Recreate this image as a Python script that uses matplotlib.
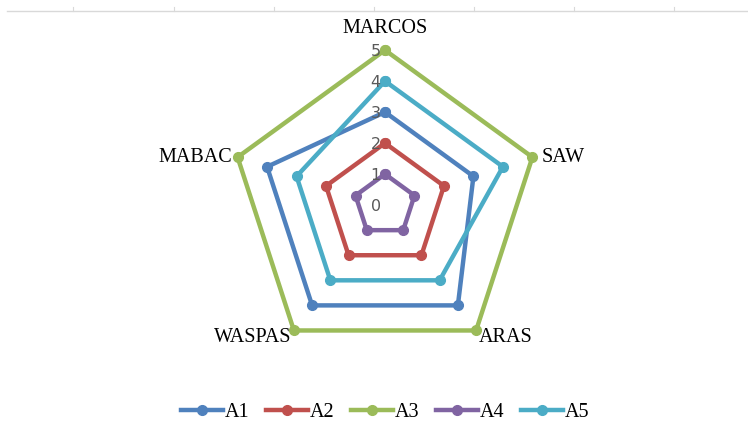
import numpy as np
import matplotlib
matplotlib.use("Agg")
import matplotlib.pyplot as plt
from matplotlib.lines import Line2D

categories = ["MARCOS", "SAW", "ARAS", "WASPAS", "MABAC"]
series_names = ["A1", "A2", "A3", "A4", "A5"]
A1 = [3, 3, 4, 4, 4]
A2 = [2, 2, 2, 2, 2]
A3 = [5, 5, 5, 5, 5]
A4 = [1, 1, 1, 1, 1]
A5 = [4, 4, 3, 3, 3]
colors = ["#4F81BD", "#C0504D", "#9BBB59", "#8064A2", "#4BACC6"]
r_ticks = [0, 1, 2, 3, 4, 5]

fig = plt.figure(figsize=(7.48, 4.37), dpi=100)

# faint sheet line along the top
fig.add_artist(Line2D([0.01, 1.0], [0.975, 0.975], color="#d9d9d9", lw=1))
for xp in [73, 174, 274, 374, 474, 574, 674]:
    fig.add_artist(Line2D([xp / 748, xp / 748], [0.975, 0.985], color="#d9d9d9", lw=0.8))

ax = fig.add_axes([0.3075, 0.1760, 0.4144, 0.7094], projection="polar")
ax.set_theta_offset(np.pi / 2)
ax.set_theta_direction(-1)

angles = np.linspace(0, 2 * np.pi, len(categories), endpoint=False)
closed = np.concatenate([angles, angles[:1]])

for name, vals, c in zip(series_names, [A1, A2, A3, A4, A5], colors):
    v = list(vals) + [vals[0]]
    ax.plot(closed, v, color=c, lw=3.2, marker="o", ms=7, label=name,
            solid_joinstyle="round", clip_on=False)

ax.set_ylim(0, 5)
ax.set_yticks(r_ticks)
ax.set_yticklabels([])
ax.set_xticks(angles)
ax.set_xticklabels([])
ax.grid(False)
ax.spines["polar"].set_visible(False)

for r in r_ticks:
    ax.annotate(str(r), xy=(0, r), xytext=(-3, -1), textcoords="offset points",
                ha="right", va="center", fontsize=11.5, color="#595959",
                family="DejaVu Sans")

label_off = {
    "MARCOS": (0, 9, "center", "bottom"),
    "SAW": (7, 0, "left", "center"),
    "ARAS": (2, -5, "left", "center"),
    "WASPAS": (-2, -5, "right", "center"),
    "MABAC": (-4, 0, "right", "center"),
}
for a, cat in zip(angles, categories):
    dx, dy, ha, va = label_off[cat]
    ax.annotate(cat, xy=(a, 5), xytext=(dx, dy), textcoords="offset points",
                ha=ha, va=va, fontsize=14.5, family="Liberation Serif", color="black")

handles = [Line2D([0], [0], color=c, lw=3.2, marker="o", ms=7) for c in colors]
fig.legend(handles, series_names, loc="center", bbox_to_anchor=(0.515, 0.057),
           ncol=5, frameon=False, prop={"family": "Liberation Serif", "size": 14.5},
           handlelength=2.1, handletextpad=0.1, columnspacing=0.8)

fig.savefig("out.png", dpi=100)
